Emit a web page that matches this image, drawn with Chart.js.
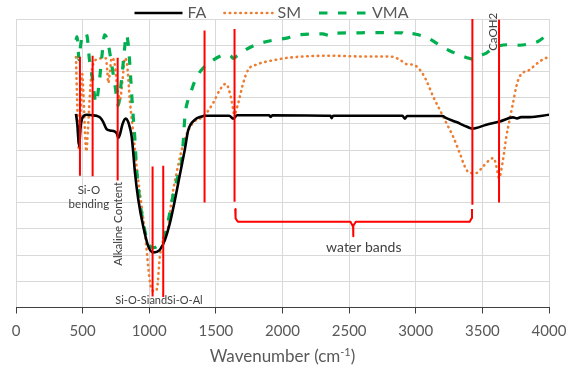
<!DOCTYPE html>
<html><head><meta charset="utf-8">
<script src="https://cdn.jsdelivr.net/npm/chart.js@4.4.1/dist/chart.umd.min.js"></script>
<style>html,body{margin:0;padding:0;background:#fff}</style>
</head><body>
<canvas id="c" width="572" height="369"></canvas>
<script>
// ---- data (wavenumber in cm-1, transmittance in grid units) ----
const faWavenumbers = [450,460,473,485,500,532,570,605,630,653,680,705,742,758,767,780,800,823,840,855,868,880,893,918,955,993,1030,1055,1080,1118,1155,1193,1230,1268,1292,1343,1393,1415,1600,1630,1660,1900,1910,1925,2360,2368,2380,2900,2918,2935,3200,3230,3305,3380,3425,3530,3630,3730,3760,3790,3855,4000];
const faValues      = [7.38,7.0,6.14,6.9,7.25,7.35,7.33,7.31,7.25,7.09,6.80,6.75,6.71,6.62,6.46,6.6,7.0,7.2,7.1,6.85,6.52,5.9,5.13,4.11,3.09,2.33,2.10,2.12,2.20,2.58,3.22,4.11,5.07,6.05,6.75,7.16,7.28,7.31,7.31,7.2,7.33,7.33,7.27,7.33,7.31,7.22,7.31,7.31,7.2,7.3,7.30,7.22,7.07,6.90,6.82,6.97,7.09,7.25,7.21,7.26,7.26,7.35];

const smWavenumbers = [450,458,465,472,480,488,497,505,515,528,540,553,568,585,600,640,675,685,693,705,718,740,760,780,798,818,835,855,880,905,943,968,985,1000,1018,1040,1058,1080,1105,1143,1168,1205,1243,1280,1330,1405,1480,1530,1575,1605,1630,1637,1668,1705,1743,1805,1955,2055,2355,2605,2805,2880,2930,2980,3030,3080,3130,3180,3230,3280,3330,3368,3405,3455,3505,3555,3585,3605,3625,3655,3680,3705,3730,3755,3780,3855,3930,4000];
const smValues      = [9.55,8.0,6.8,6.0,6.6,7.9,8.9,8.3,7.0,5.95,6.8,8.0,9.0,9.35,9.45,9.5,9.5,9.0,8.56,9.0,9.52,9.3,8.4,7.92,8.6,9.51,9.2,7.86,6.65,5.38,3.85,2.84,1.95,1.18,0.68,0.62,0.72,1.95,2.58,3.09,4.11,5.13,6.0,6.6,7.05,7.28,7.8,8.3,8.53,8.18,7.54,7.35,7.8,8.56,9.07,9.26,9.45,9.53,9.6,9.57,9.57,9.45,9.28,9.26,9.07,8.65,8.05,7.54,7.03,6.52,5.89,5.38,5.13,5.13,5.38,5.63,5.70,5.38,4.94,5.63,6.52,7.16,7.8,8.43,8.81,9.07,9.38,9.57];

const vmaWavenumbers = [450,458,466,473,485,500,520,535,550,575,600,625,645,665,690,720,745,767,790,810,828,845,860,875,890,905,930,968,993,1030,1075,1120,1150,1180,1210,1240,1255,1268,1290,1305,1343,1390,1470,1540,1580,1610,1630,1660,1700,1800,1950,2040,2105,2300,2355,2380,2500,2700,2900,2918,2940,3000,3100,3180,3250,3330,3400,3425,3480,3530,3570,3630,3700,3780,3850,3920,3960,4000];
const vmaValues      = [10.2,10.33,9.9,9.45,10.0,10.4,10.45,10.3,9.5,8.7,7.8,8.6,9.6,10.4,10.1,9.2,8.4,7.7,8.6,9.6,10.4,9.9,8.8,7.6,6.6,5.3,4.05,2.9,2.45,2.28,2.4,2.8,3.5,4.3,4.9,5.5,6.3,7.3,7.9,8.1,8.65,9.05,9.4,9.6,9.64,9.6,9.5,9.6,9.75,10.02,10.21,10.28,10.39,10.43,10.36,10.45,10.47,10.48,10.47,10.4,10.45,10.42,10.25,10.0,9.8,9.63,9.5,9.47,9.6,9.7,9.85,9.98,10.02,10.0,10.05,10.15,10.3,10.5];

// red band-marker lines: wavenumber, top and bottom (grid units)
const markerWavenumbers = [480,575,763,1025,1105,1415,1640,3425,3625];
const markerTops        = [9.56,9.60,9.52,5.38,5.40,10.56,10.62,11.0,10.97];
const markerBottoms     = [5.02,5.0,4.84,0.42,0.40,4.0,4.03,3.92,4.0];

// "water bands" brace
const braceWavenumbers = [1645,1648,1665,2510,2526,2530,2530,2530,2534,2550,3405,3419,3422];
const braceValues      = [3.76,3.40,3.27,3.27,3.12,3.05,2.72,3.05,3.12,3.27,3.27,3.40,3.76];

const xTicks = [0,500,1000,1500,2000,2500,3000,3500,4000];

const seriesNames = ['FA','SM','VMA'];

// ---- build datasets ----
const toPts = (xs, ys) => xs.map((x, i) => ({x, y: ys[i]}));
const RED = '#FF0000';
const styles = {
  FA:  {borderColor:'#000000', borderWidth:2.6, borderDash:[], borderCapStyle:'butt'},
  SM:  {borderColor:'#ED7D31', borderWidth:2.6, borderDash:[0.5,4.8], borderCapStyle:'round'},
  VMA: {borderColor:'#00B050', borderWidth:3.2, borderDash:[8.5,10.5], borderCapStyle:'butt'}
};
const datasets = [];
markerWavenumbers.forEach((w, i) => {
  datasets.push({label:'_m'+i, data:[{x:w,y:markerBottoms[i]},{x:w,y:markerTops[i]}],
    borderColor:RED, borderWidth:2, pointRadius:0, tension:0, order:0});
});
datasets.push({label:'_brace', data:toPts(braceWavenumbers, braceValues), borderColor:RED,
  borderWidth:2, pointRadius:0, tension:0, order:0, borderJoinStyle:'round'});
datasets.push(Object.assign({label:'FA', data:toPts(faWavenumbers, faValues), pointRadius:0,
  cubicInterpolationMode:'monotone', order:1}, styles.FA));
datasets.push(Object.assign({label:'VMA', data:toPts(vmaWavenumbers, vmaValues), pointRadius:0,
  cubicInterpolationMode:'monotone', order:2}, styles.VMA));
datasets.push(Object.assign({label:'SM', data:toPts(smWavenumbers, smValues), pointRadius:0,
  cubicInterpolationMode:'monotone', order:3}, styles.SM));

// annotation texts positioned in data coordinates
const notes = [
  {text:'Si-O', x:547, y:4.45, rot:0},
  {text:'bending', x:547, y:3.95, rot:0},
  {text:'Alkaline Content', x:765, y:3.19, rot:-90},
  {text:'Si-O-SiandSi-O-Al', x:1073, y:0.26, rot:0, size:11},
  {text:'CaOH2', x:3580, y:10.51, rot:-90},
  {text:'water bands', x:2610, y:2.28, rot:0, size:14}
];

const FONT = 'Lato';
const extras = {
  id:'extras',
  afterDatasetsDraw(chart){
    const ctx = chart.ctx, xs = chart.scales.x, ys = chart.scales.y;
    ctx.save();
    ctx.fillStyle = '#404040';
    ctx.textAlign = 'center'; ctx.textBaseline = 'middle';
    notes.forEach(n => {
      ctx.save();
      ctx.font = (n.size||11.5) + 'px ' + FONT;
      ctx.translate(xs.getPixelForValue(n.x), ys.getPixelForValue(n.y));
      ctx.rotate(n.rot*Math.PI/180);
      ctx.fillText(n.text, 0, 0);
      ctx.restore();
    });
    ctx.restore();
  },
  afterDraw(chart){
    const ctx = chart.ctx, ca = chart.chartArea;
    ctx.save();
    // legend
    const items = seriesNames;
    const sampleW = 48, gapAfterSample = 5, gapBetween = 18;
    ctx.font = '16px ' + FONT;
    const widths = items.map(t => ctx.measureText(t).width);
    const total = widths.reduce((a,w)=>a+sampleW+gapAfterSample+w,0) + gapBetween*(items.length-1);
    let x = (ca.left + ca.right)/2 - 11 - total/2;
    const ly = 13;
    items.forEach((t,i) => {
      const s = styles[t];
      ctx.save();
      ctx.strokeStyle = s.borderColor; ctx.lineWidth = s.borderWidth;
      ctx.setLineDash(s.borderDash); ctx.lineCap = s.borderCapStyle;
      ctx.beginPath(); ctx.moveTo(x, ly); ctx.lineTo(x+sampleW, ly); ctx.stroke();
      ctx.restore();
      x += sampleW + gapAfterSample;
      ctx.fillStyle = '#595959'; ctx.textAlign='left'; ctx.textBaseline='middle';
      ctx.fillText(t, x, ly);
      x += widths[i] + gapBetween;
    });
    // x axis title with superscript
    const main1 = 'Wavenumber (cm', sup = '-1', main2 = ')';
    ctx.font = '17px ' + FONT;
    const w1 = ctx.measureText(main1).width, w3 = ctx.measureText(main2).width;
    ctx.font = '11px ' + FONT;
    const w2 = ctx.measureText(sup).width;
    const tw = w1+w2+w3;
    let tx = (ca.left+ca.right)/2 - tw/2;
    const ty = 357;
    ctx.fillStyle = '#595959'; ctx.textAlign='left'; ctx.textBaseline='middle';
    ctx.font = '17px ' + FONT; ctx.fillText(main1, tx, ty); tx += w1;
    ctx.font = '11px ' + FONT; ctx.fillText(sup, tx, ty-5); tx += w2;
    ctx.font = '17px ' + FONT; ctx.fillText(main2, tx, ty);
    ctx.restore();
  }
};

new Chart(document.getElementById('c'), {
  type:'line',
  data:{datasets},
  options:{
    responsive:false, animation:false, devicePixelRatio:1,
    layout:{padding:{left:16, right:23, top:19, bottom:0}},
    plugins:{legend:{display:false}, tooltip:{enabled:false}},
    scales:{
      x:{type:'linear', min:0, max:4000,
        afterBuildTicks: s => { s.ticks = xTicks.map(v => ({value:v})); },
        afterFit: s => { s.height = 61.5; s.paddingLeft = 0; s.paddingRight = 0; },
        ticks:{color:'#595959', font:{family:FONT, size:15}, padding:9, maxRotation:0,
          callback: v => String(v)},
        grid:{color:'#D9D9D9', tickColor:'#404040', tickLength:6, lineWidth:1},
        border:{color:'#404040', width:1}
      },
      y:{min:0, max:11,
        afterFit: s => { s.width = 0; },
        ticks:{display:false, stepSize:1},
        grid:{color:'#D9D9D9', drawTicks:false, lineWidth:1},
        border:{display:false}
      }
    }
  },
  plugins:[extras]
});
</script>
</body></html>
